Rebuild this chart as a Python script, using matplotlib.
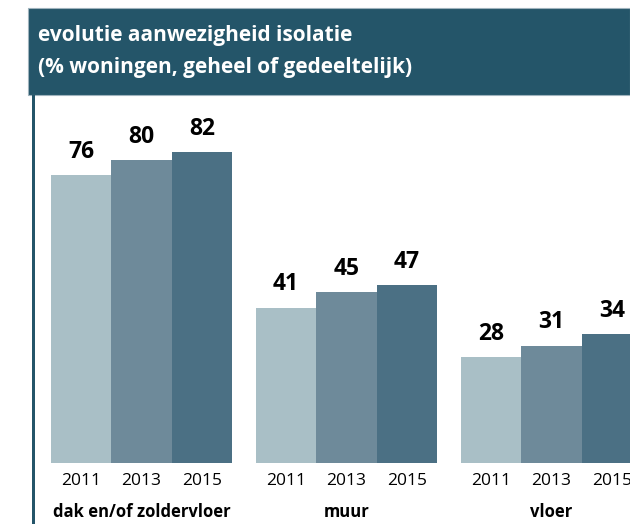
import matplotlib.pyplot as plt
from matplotlib.patches import Rectangle

# ---------- DATA ----------
categories = ["dak en/of zoldervloer", "muur", "vloer"]
years = ["2011", "2013", "2015"]
values_2011 = [76, 41, 28]
values_2013 = [80, 45, 31]
values_2015 = [82, 47, 34]

colors = ["#a9bfc6", "#6e8a9a", "#4b7084"]
header_color = "#245569"

plt.rcParams["font.family"] = ["Open Sans", "DejaVu Sans"]

W, H = 630, 524
fig = plt.figure(figsize=(W / 100, H / 100), dpi=100)
fig.patch.set_facecolor("white")

# header box
fig.patches.append(Rectangle((28 / W, 1 - 95 / H), (W - 28) / W, 87 / H,
                             transform=fig.transFigure, facecolor=header_color,
                             edgecolor="#9fb3bd", linewidth=0.8, zorder=0))
fig.text(38 / W, 1 - 35 / H, "evolutie aanwezigheid isolatie", color="white",
         fontsize=15, fontweight="bold", va="center", ha="left")
fig.text(38 / W, 1 - 67 / H, "(% woningen, geheel of gedeeltelijk)", color="white",
         fontsize=15, fontweight="bold", va="center", ha="left")

# left border
fig.patches.append(Rectangle((32 / W, 0), 3 / W, 1 - 95 / H,
                             transform=fig.transFigure, facecolor=header_color,
                             edgecolor="none", zorder=0))

# ---------- BARS ----------
ax = fig.add_axes([35 / W, 1 - 463 / H, (W - 35) / W, (463 - 95) / H])
px_per_unit = 60.3
group_step = 3.4
xmin = -0.5 - (51 - 35) / px_per_unit
ax.set_xlim(xmin, xmin + (W - 35) / px_per_unit)
ax.set_ylim(0, (463 - 95) / 3.79)
ax.axis("off")

series = [values_2011, values_2013, values_2015]
for j, vals in enumerate(series):
    xs = [i * group_step + j for i in range(len(categories))]
    bars = ax.bar(xs, vals, width=1.0, color=colors[j], clip_on=True)
    for x, v in zip(xs, vals):
        ax.annotate(str(v), (x, v), xytext=(0, 8), textcoords="offset points",
                    ha="center", va="bottom", fontsize=16.5, fontweight="bold",
                    color="black", annotation_clip=False)
        ax.annotate(years[j], (x, 0), xytext=(0, -7), textcoords="offset points",
                    ha="center", va="top", fontsize=12.5, color="black",
                    annotation_clip=False)

for i, cat in enumerate(categories):
    ax.annotate(cat, (i * group_step + 1, 0), xytext=(0, -29), textcoords="offset points",
                ha="center", va="top", fontsize=12, fontweight="bold",
                color="black", annotation_clip=False)

plt.savefig("out.png", dpi=100)
